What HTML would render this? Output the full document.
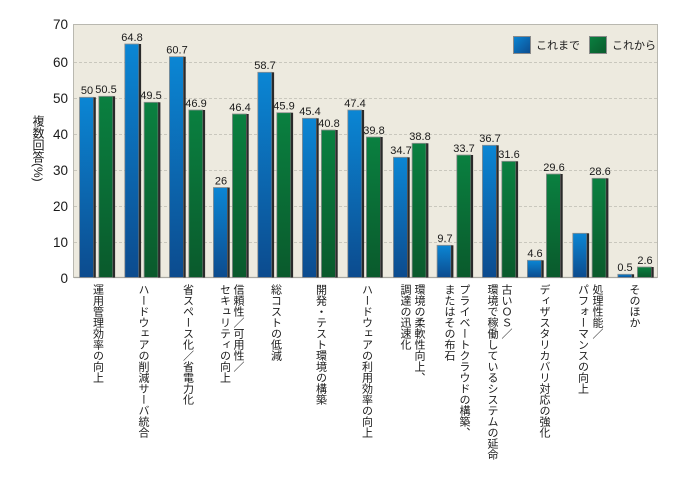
<!DOCTYPE html>
<html><head><meta charset="utf-8">
<style>
html,body{margin:0;padding:0;background:#fff;}
#w{position:relative;width:690px;height:480px;overflow:hidden;background:#fff;}
svg{position:absolute;left:0;top:0;}
.v{position:absolute;writing-mode:vertical-rl;font-family:"Liberation Sans","Noto Sans CJK JP",sans-serif;font-size:11px;line-height:11px;color:#1a1a1a;white-space:nowrap;}
.ylab{position:absolute;writing-mode:vertical-rl;font-family:"Liberation Sans","Noto Sans CJK JP",sans-serif;font-size:12px;line-height:12px;color:#1a1a1a;white-space:nowrap;left:32px;top:115px;}
.lg{position:absolute;font-family:"Liberation Sans","Noto Sans CJK JP",sans-serif;font-size:11px;line-height:12px;color:#1a1a1a;white-space:nowrap;}
</style></head><body>
<div id="w">
<svg width="690" height="480" viewBox="0 0 690 480" xmlns="http://www.w3.org/2000/svg">
<defs>
<linearGradient id="gb" x1="0" y1="0" x2="0" y2="1">
<stop offset="0" stop-color="#0b86d4"/><stop offset="1" stop-color="#0c4b8e"/>
</linearGradient>
<linearGradient id="gg" x1="0" y1="0" x2="0" y2="1">
<stop offset="0" stop-color="#0a8040"/><stop offset="1" stop-color="#0a5a2c"/>
</linearGradient>
<linearGradient id="lb" x1="0" y1="0" x2="1" y2="1">
<stop offset="0" stop-color="#0b86d4"/><stop offset="1" stop-color="#0c4b8e"/>
</linearGradient>
<linearGradient id="lgg" x1="0" y1="0" x2="1" y2="1">
<stop offset="0" stop-color="#0a8040"/><stop offset="1" stop-color="#0a5a2c"/>
</linearGradient>
</defs>
<rect x="73.5" y="24.5" width="584" height="253" fill="#edeadf" stroke="#b9b8b0" stroke-width="1"/>
<g stroke="#c9c7bd" stroke-width="1" stroke-dasharray="3,2">
<line x1="74" x2="657" y1="62.5" y2="62.5"/>
<line x1="74" x2="657" y1="98.5" y2="98.5"/>
<line x1="74" x2="657" y1="134.5" y2="134.5"/>
<line x1="74" x2="657" y1="170.5" y2="170.5"/>
<line x1="74" x2="657" y1="206.5" y2="206.5"/>
<line x1="74" x2="657" y1="242.5" y2="242.5"/>
</g>
<g font-family="Liberation Sans, sans-serif" font-size="13.5" fill="#1a1a1a" text-anchor="end">
<text x="68" y="29">70</text>
<text x="68" y="67">60</text>
<text x="68" y="103">50</text>
<text x="68" y="139">40</text>
<text x="68" y="175">30</text>
<text x="68" y="211">20</text>
<text x="68" y="247">10</text>
<text x="68" y="283">0</text>
</g>
<g id="bars"></g>
<line x1="74" x2="657" y1="277.5" y2="277.5" stroke="#a8a7a0" stroke-width="1.2"/>
<rect x="513.5" y="36.5" width="17" height="17" fill="url(#lb)" stroke="#8a8a8a" stroke-width="1"/>
<rect x="589.5" y="36.5" width="17" height="17" fill="url(#lgg)" stroke="#8a8a8a" stroke-width="1"/>
<g font-family="Liberation Sans, sans-serif" font-size="11" fill="#1a1a1a" text-anchor="middle">
<text x="87" y="94">50</text>
<text x="106" y="93">50.5</text>
<text x="132" y="41">64.8</text>
<text x="151" y="99">49.5</text>
<text x="177" y="53.5">60.7</text>
<text x="196" y="107">46.9</text>
<text x="221" y="184.5">26</text>
<text x="240" y="111">46.4</text>
<text x="265" y="69">58.7</text>
<text x="284" y="109.5">45.9</text>
<text x="310" y="115">45.4</text>
<text x="329" y="127">40.8</text>
<text x="355" y="107">47.4</text>
<text x="374" y="134">39.8</text>
<text x="401" y="154">34.7</text>
<text x="420" y="140">38.8</text>
<text x="445" y="242">9.7</text>
<text x="464" y="152">33.7</text>
<text x="490" y="142">36.7</text>
<text x="509" y="158">31.6</text>
<text x="535" y="257">4.6</text>
<text x="554" y="171">29.6</text>
<text x="600" y="175">28.6</text>
<text x="625" y="271">0.5</text>
<text x="645" y="264">2.6</text>
</g>
<g>
<!-- blue bars -->
<rect x="79.5" y="97.3" width="14" height="180.2" fill="url(#gb)" stroke="#8f8f8f" stroke-width="0.8"/><rect x="93.5" y="97.3" width="2.3" height="180.2" fill="#2a2a2a"/>
<rect x="124.8" y="44" width="14" height="233.5" fill="url(#gb)" stroke="#8f8f8f" stroke-width="0.8"/><rect x="138.8" y="44" width="2.3" height="233.5" fill="#2a2a2a"/>
<rect x="169.4" y="56.7" width="14" height="220.8" fill="url(#gb)" stroke="#8f8f8f" stroke-width="0.8"/><rect x="183.4" y="56.7" width="2.3" height="220.8" fill="#2a2a2a"/>
<rect x="213.4" y="187.5" width="14" height="90" fill="url(#gb)" stroke="#8f8f8f" stroke-width="0.8"/><rect x="227.4" y="187.5" width="2.3" height="90" fill="#2a2a2a"/>
<rect x="257.8" y="72.3" width="14" height="205.2" fill="url(#gb)" stroke="#8f8f8f" stroke-width="0.8"/><rect x="271.8" y="72.3" width="2.3" height="205.2" fill="#2a2a2a"/>
<rect x="302.4" y="118.3" width="14" height="159.2" fill="url(#gb)" stroke="#8f8f8f" stroke-width="0.8"/><rect x="316.4" y="118.3" width="2.3" height="159.2" fill="#2a2a2a"/>
<rect x="347.8" y="110" width="14" height="167.5" fill="url(#gb)" stroke="#8f8f8f" stroke-width="0.8"/><rect x="361.8" y="110" width="2.3" height="167.5" fill="#2a2a2a"/>
<rect x="393.4" y="157.3" width="14" height="120.2" fill="url(#gb)" stroke="#8f8f8f" stroke-width="0.8"/><rect x="407.4" y="157.3" width="2.3" height="120.2" fill="#2a2a2a"/>
<rect x="437.1" y="245.3" width="14" height="32.2" fill="url(#gb)" stroke="#8f8f8f" stroke-width="0.8"/><rect x="451.1" y="245.3" width="2.3" height="32.2" fill="#2a2a2a"/>
<rect x="482.4" y="145.3" width="14" height="132.2" fill="url(#gb)" stroke="#8f8f8f" stroke-width="0.8"/><rect x="496.4" y="145.3" width="2.3" height="132.2" fill="#2a2a2a"/>
<rect x="527.4" y="260.3" width="14" height="17.2" fill="url(#gb)" stroke="#8f8f8f" stroke-width="0.8"/><rect x="541.4" y="260.3" width="2.3" height="17.2" fill="#2a2a2a"/>
<rect x="572.8" y="233.3" width="14" height="44.2" fill="url(#gb)" stroke="#8f8f8f" stroke-width="0.8"/><rect x="586.8" y="233.3" width="2.3" height="44.2" fill="#2a2a2a"/>
<rect x="617.8" y="274.3" width="14" height="3.2" fill="url(#gb)" stroke="#8f8f8f" stroke-width="0.8"/><rect x="631.8" y="274.3" width="2.3" height="3.2" fill="#2a2a2a"/>
<!-- green bars -->
<rect x="98.8" y="96.3" width="14" height="181.2" fill="url(#gg)" stroke="#8f8f8f" stroke-width="0.8"/><rect x="112.8" y="96.3" width="2.3" height="181.2" fill="#2a2a2a"/>
<rect x="144.1" y="102.3" width="14" height="175.2" fill="url(#gg)" stroke="#8f8f8f" stroke-width="0.8"/><rect x="158.1" y="102.3" width="2.3" height="175.2" fill="#2a2a2a"/>
<rect x="188.8" y="110" width="14" height="167.5" fill="url(#gg)" stroke="#8f8f8f" stroke-width="0.8"/><rect x="202.8" y="110" width="2.3" height="167.5" fill="#2a2a2a"/>
<rect x="232.4" y="114" width="14" height="163.5" fill="url(#gg)" stroke="#8f8f8f" stroke-width="0.8"/><rect x="246.4" y="114" width="2.3" height="163.5" fill="#2a2a2a"/>
<rect x="276.8" y="112.7" width="14" height="164.8" fill="url(#gg)" stroke="#8f8f8f" stroke-width="0.8"/><rect x="290.8" y="112.7" width="2.3" height="164.8" fill="#2a2a2a"/>
<rect x="321.4" y="130" width="14" height="147.5" fill="url(#gg)" stroke="#8f8f8f" stroke-width="0.8"/><rect x="335.4" y="130" width="2.3" height="147.5" fill="#2a2a2a"/>
<rect x="366.4" y="137" width="14" height="140.5" fill="url(#gg)" stroke="#8f8f8f" stroke-width="0.8"/><rect x="380.4" y="137" width="2.3" height="140.5" fill="#2a2a2a"/>
<rect x="412.1" y="143.3" width="14" height="134.2" fill="url(#gg)" stroke="#8f8f8f" stroke-width="0.8"/><rect x="426.1" y="143.3" width="2.3" height="134.2" fill="#2a2a2a"/>
<rect x="456.8" y="155" width="14" height="122.5" fill="url(#gg)" stroke="#8f8f8f" stroke-width="0.8"/><rect x="470.8" y="155" width="2.3" height="122.5" fill="#2a2a2a"/>
<rect x="501.8" y="161.3" width="14" height="116.2" fill="url(#gg)" stroke="#8f8f8f" stroke-width="0.8"/><rect x="515.8" y="161.3" width="2.3" height="116.2" fill="#2a2a2a"/>
<rect x="546.4" y="174" width="14" height="103.5" fill="url(#gg)" stroke="#8f8f8f" stroke-width="0.8"/><rect x="560.4" y="174" width="2.3" height="103.5" fill="#2a2a2a"/>
<rect x="592.1" y="178.3" width="14" height="99.2" fill="url(#gg)" stroke="#8f8f8f" stroke-width="0.8"/><rect x="606.1" y="178.3" width="2.3" height="99.2" fill="#2a2a2a"/>
<rect x="637.4" y="267" width="14" height="10.5" fill="url(#gg)" stroke="#8f8f8f" stroke-width="0.8"/><rect x="651.4" y="267" width="2.3" height="10.5" fill="#2a2a2a"/>
</g>
</svg>

<div class="ylab">複数回答(%)</div>
<div class="lg" style="left:536px;top:40px;">これまで</div>
<div class="lg" style="left:612px;top:40px;">これから</div>

<div class="v" style="left:91.5px;top:284px;">運用管理効率の向上</div>
<div class="v" style="left:137px;top:284px;">ハードウェアの削減サーバ統合</div>
<div class="v" style="left:181.5px;top:284px;">省スペース化／省電力化</div>
<div class="v" style="left:232px;top:284px;">信頼性／可用性／</div>
<div class="v" style="left:218.5px;top:284px;">セキュリティの向上</div>
<div class="v" style="left:269.5px;top:284px;">総コストの低減</div>
<div class="v" style="left:314.5px;top:284px;">開発・テスト環境の構築</div>
<div class="v" style="left:360.5px;top:284px;">ハードウェアの利用効率の向上</div>
<div class="v" style="left:413px;top:284px;">環境の柔軟性向上、</div>
<div class="v" style="left:399px;top:284px;">調達の迅速化</div>
<div class="v" style="left:458px;top:284px;">プライベートクラウドの構築、</div>
<div class="v" style="left:443px;top:284px;">またはその布石</div>
<div class="v" style="left:500px;top:284px;">古いＯＳ／</div>
<div class="v" style="left:486px;top:284px;">環境で稼働しているシステムの延命</div>
<div class="v" style="left:538px;top:284px;">ディザスタリカバリ対応の強化</div>
<div class="v" style="left:591px;top:284px;">処理性能／</div>
<div class="v" style="left:576.5px;top:284px;">パフォーマンスの向上</div>
<div class="v" style="left:628px;top:284px;">そのほか</div>
</div>
</body></html>
